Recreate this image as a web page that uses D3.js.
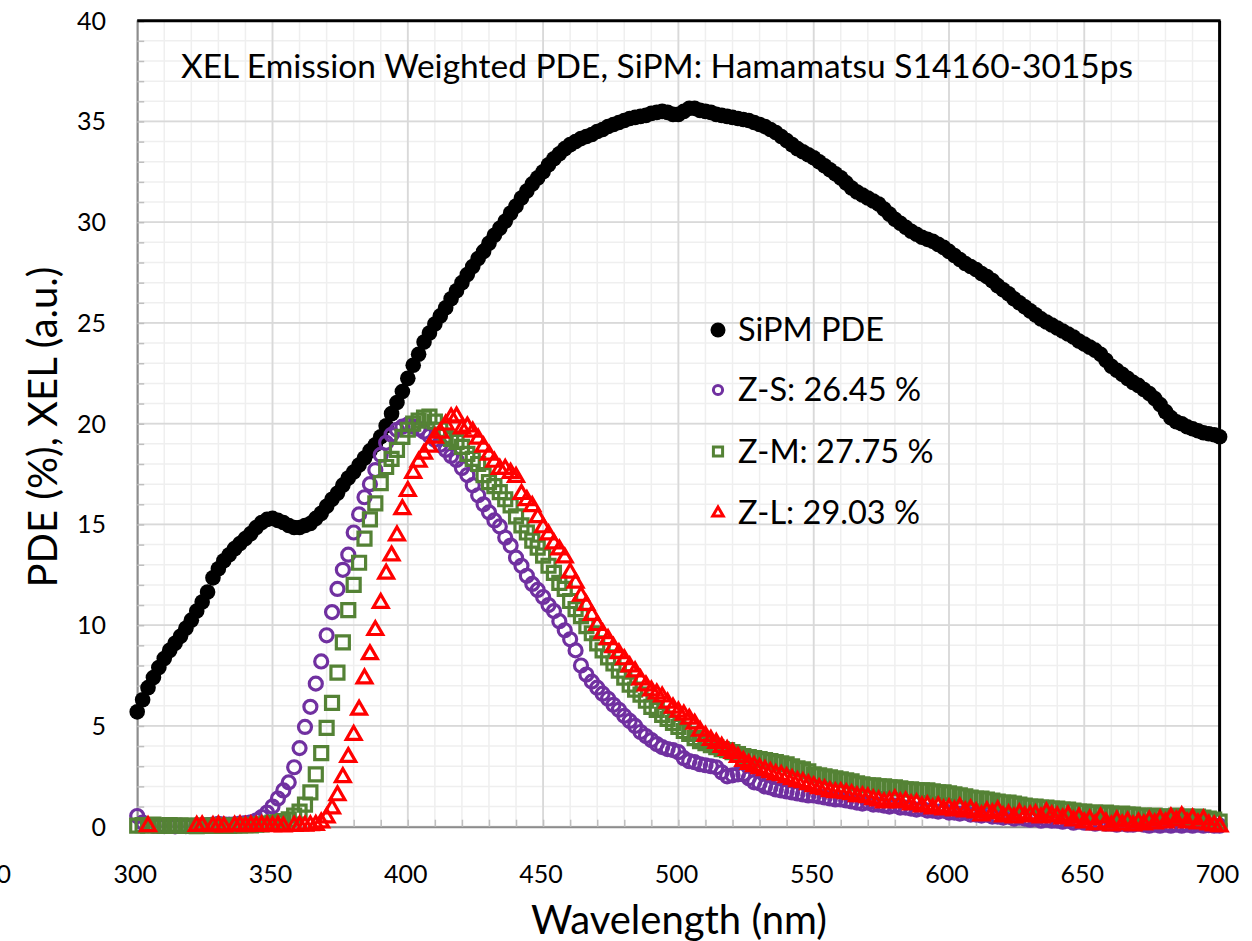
<!DOCTYPE html>
<html>
<head>
<meta charset="utf-8">
<script src="https://cdn.jsdelivr.net/npm/d3@7"></script>
<style>
body { margin: 0; background: #fff; }
text { font-family: Lato, "Open Sans", sans-serif; fill: #000; }
</style>
</head>
<body>
<div id="chart"></div>
<script>
// wavelength (nm), one sample every 2 nm
var wavelength = [
 300,302,304,306,308,310,312,314,316,318,320,322,324,326,328,330,332,334,336,338,
 340,342,344,346,348,350,352,354,356,358,360,362,364,366,368,370,372,374,376,378,
 380,382,384,386,388,390,392,394,396,398,400,402,404,406,408,410,412,414,416,418,
 420,422,424,426,428,430,432,434,436,438,440,442,444,446,448,450,452,454,456,458,
 460,462,464,466,468,470,472,474,476,478,480,482,484,486,488,490,492,494,496,498,
 500,502,504,506,508,510,512,514,516,518,520,522,524,526,528,530,532,534,536,538,
 540,542,544,546,548,550,552,554,556,558,560,562,564,566,568,570,572,574,576,578,
 580,582,584,586,588,590,592,594,596,598,600,602,604,606,608,610,612,614,616,618,
 620,622,624,626,628,630,632,634,636,638,640,642,644,646,648,650,652,654,656,658,
 660,662,664,666,668,670,672,674,676,678,680,682,684,686,688,690,692,694,696,698,
 700
];

// SiPM PDE (%)
var sipmPde = [
 5.7,6.3,6.9,7.4,7.9,8.35,8.75,9.1,9.45,9.85,10.25,10.7,11.15,11.65,12.35,12.8,13.2,13.5,13.8,14.05,
 14.3,14.55,14.85,15.1,15.25,15.3,15.2,15.1,14.95,14.85,14.85,14.95,15.05,15.3,15.55,15.9,16.25,16.55,16.95,17.3,
 17.6,17.95,18.3,18.65,18.95,19.35,19.9,20.5,21.05,21.6,22.25,22.9,23.45,24.05,24.5,24.95,25.35,25.75,26.2,26.6,
 27.0,27.4,27.8,28.2,28.55,28.95,29.35,29.7,30.05,30.45,30.8,31.2,31.55,31.9,32.2,32.5,32.85,33.15,33.4,33.65,
 33.85,34.0,34.15,34.25,34.35,34.5,34.6,34.75,34.85,34.95,35.05,35.15,35.2,35.25,35.3,35.4,35.45,35.5,35.45,35.35,
 35.35,35.5,35.65,35.65,35.55,35.5,35.45,35.35,35.3,35.25,35.2,35.15,35.1,35.05,34.95,34.85,34.75,34.6,34.45,34.25,
 34.05,33.85,33.65,33.5,33.35,33.2,33.0,32.8,32.6,32.4,32.2,31.95,31.7,31.5,31.35,31.2,31.05,30.9,30.65,30.4,
 30.15,29.95,29.75,29.55,29.4,29.25,29.15,29.05,28.9,28.75,28.55,28.35,28.15,27.95,27.8,27.65,27.45,27.3,27.1,26.85,
 26.65,26.45,26.2,26.0,25.8,25.6,25.4,25.2,25.05,24.9,24.75,24.6,24.45,24.3,24.1,23.95,23.8,23.65,23.45,23.15,
 22.85,22.65,22.45,22.25,22.05,21.9,21.7,21.5,21.25,20.95,20.6,20.3,20.1,20.0,19.85,19.75,19.65,19.55,19.5,19.45,
 19.35
];

// XEL emission, Z-S (a.u.)
var zS = [
 0.53,0.2,0.08,0.05,0.05,0.03,0.04,0.02,0.05,0.03,0.04,0.06,0.05,0.08,0.1,0.14,0.12,0.1,0.12,0.15,
 0.18,0.22,0.32,0.48,0.7,1.0,1.4,1.8,2.2,2.95,3.9,4.95,5.95,7.1,8.2,9.5,10.65,11.8,12.75,13.5,
 14.6,15.5,16.35,17.0,17.7,18.45,19.05,19.45,19.7,19.85,19.95,19.85,19.75,19.6,19.4,19.2,18.95,18.7,18.4,18.2,
 17.8,17.45,16.95,16.45,16.0,15.6,15.2,14.9,14.35,13.95,13.35,12.95,12.45,12.05,11.75,11.4,11.0,10.7,10.2,9.75,
 9.3,8.75,8.0,7.55,7.2,6.9,6.6,6.35,6.05,5.8,5.5,5.25,5.0,4.7,4.5,4.3,4.1,3.95,3.85,3.8,
 3.7,3.4,3.25,3.2,3.1,3.05,3.0,2.95,2.7,2.5,2.55,2.6,2.6,2.4,2.2,2.15,2.0,1.95,1.85,1.8,
 1.75,1.7,1.65,1.6,1.55,1.55,1.5,1.45,1.4,1.35,1.35,1.3,1.25,1.2,1.15,1.2,1.1,1.1,1.05,1.0,
 1.05,0.95,0.95,0.9,0.85,0.9,0.8,0.8,0.75,0.8,0.7,0.7,0.65,0.7,0.6,0.6,0.55,0.6,0.5,0.5,
 0.45,0.5,0.4,0.45,0.4,0.35,0.4,0.3,0.35,0.3,0.3,0.25,0.3,0.2,0.25,0.2,0.2,0.15,0.2,0.15,
 0.15,0.1,0.15,0.1,0.1,0.15,0.1,0.05,0.1,0.05,0.1,0.05,0.1,0.05,0.1,0.05,0.1,0.05,0.08,0.05,
 0.05
];

// XEL emission, Z-M (a.u.)
var zM = [
 0.05,0.08,0.05,0.1,0.06,0.04,0.08,0.05,0.06,0.04,0.05,0.03,0.05,0.06,0.04,0.05,0.06,0.04,0.05,0.06,
 0.08,0.07,0.1,0.12,0.15,0.2,0.22,0.28,0.36,0.55,0.75,1.1,1.7,2.6,3.65,4.9,6.15,7.65,9.15,10.75,
 12.0,13.1,14.3,15.25,16.05,17.05,17.85,18.25,18.7,19.35,19.7,20.0,20.15,20.3,20.35,20.1,19.7,19.4,19.25,19.1,
 18.85,18.5,18.25,18.0,17.45,17.1,16.9,16.6,16.25,15.95,15.4,14.95,14.6,14.2,13.85,13.45,12.95,12.6,12.1,11.8,
 11.2,10.8,10.45,9.95,9.6,9.1,8.75,8.4,8.1,7.75,7.4,7.05,6.8,6.55,6.25,5.95,5.8,5.55,5.35,5.15,
 4.95,4.75,4.6,4.4,4.25,4.15,4.05,3.95,3.85,3.8,3.7,3.6,3.5,3.45,3.4,3.35,3.3,3.25,3.2,3.15,
 3.1,3.0,2.9,2.85,2.75,2.6,2.55,2.5,2.45,2.4,2.35,2.3,2.25,2.15,2.1,2.05,2.05,2.0,2.0,1.95,
 1.95,1.9,1.85,1.85,1.8,1.8,1.8,1.75,1.7,1.7,1.65,1.6,1.55,1.5,1.45,1.4,1.4,1.35,1.3,1.25,
 1.2,1.2,1.15,1.1,1.05,1.0,1.0,0.95,0.95,0.9,0.9,0.85,0.85,0.8,0.75,0.75,0.7,0.7,0.65,0.7,
 0.65,0.6,0.65,0.6,0.6,0.55,0.55,0.5,0.55,0.5,0.5,0.5,0.55,0.5,0.5,0.45,0.5,0.45,0.4,0.35,
 0.25
];

// XEL emission, Z-L (a.u.), values below 0 are not shown
var zL = [
 -0.3,-0.2,0.02,-0.3,-0.2,-0.4,-0.3,-0.2,-0.3,-0.25,-0.1,0.03,0.05,-0.1,0.02,0.05,0.0,-0.1,0.04,0.06,
 0.02,0.05,0.03,0.06,0.04,0.02,0.05,0.0,-0.1,0.03,0.05,0.04,0.06,0.08,0.2,0.45,0.9,1.55,2.45,3.45,
 4.55,5.8,7.35,8.55,9.75,11.1,12.55,13.45,14.45,15.75,16.65,17.55,18.1,18.5,18.85,19.3,19.55,19.95,20.3,20.35,
 19.75,19.85,19.6,19.25,18.85,18.45,18.1,17.75,17.75,17.55,17.35,16.5,16.2,15.9,15.35,14.85,14.5,14.05,13.75,13.35,
 12.6,12.1,11.45,11.0,10.5,10.0,9.6,9.3,8.9,8.6,8.3,7.95,7.7,7.3,7.0,6.75,6.6,6.45,6.15,5.9,
 5.7,5.55,5.35,5.1,4.75,4.5,4.3,4.15,3.95,3.8,3.65,3.45,3.25,3.1,3.0,2.9,2.8,2.7,2.6,2.55,
 2.45,2.35,2.25,2.2,2.1,2.0,1.9,1.85,1.75,1.7,1.7,1.65,1.6,1.5,1.5,1.45,1.35,1.3,1.2,1.25,
 1.35,1.2,1.25,1.1,1.15,1.0,1.05,0.9,1.0,0.85,0.9,0.8,0.95,0.75,0.85,0.7,0.55,0.75,0.65,0.8,
 0.5,0.6,0.45,0.65,0.5,0.55,0.6,0.45,0.7,0.55,0.5,0.4,0.55,0.3,0.45,0.2,0.35,0.1,0.45,0.2,
 0.05,0.3,0.1,0.25,0.05,0.2,0.1,0.3,0.15,0.35,0.2,0.45,0.3,0.5,0.2,0.4,0.15,0.35,0.1,0.05,
 0.0
];

var xTickLabels = [300, 350, 400, 450, 500, 550, 600, 650, 700];
var yTickLabels = [0, 5, 10, 15, 20, 25, 30, 35, 40];
var legendLabels = ["SiPM PDE", "Z-S: 26.45 %", "Z-M: 27.75 %", "Z-L: 29.03 %"];
var titleText = "XEL Emission Weighted PDE, SiPM: Hamamatsu S14160-3015ps";
var xTitle = "Wavelength (nm)";
var yTitle = "PDE (%), XEL (a.u.)";

(function() {
    var width = 1252, height = 941;
    var plotL = 137.2, plotR = 1219.6, plotT = 20.7, plotB = 826.7;

    var x = d3.scaleLinear().domain([300, 700]).range([plotL, plotR]);
    var y = d3.scaleLinear().domain([0, 40]).range([plotB, plotT]);

    var svg = d3.select("#chart").append("svg")
        .attr("width", width)
        .attr("height", height);

    // minor grid
    var g = svg.append("g");
    g.selectAll(".vminor").data(x.ticks(40)).enter().append("line")
        .attr("x1", function(d) { return x(d); }).attr("x2", function(d) { return x(d); })
        .attr("y1", plotT).attr("y2", plotB)
        .attr("stroke", "#efefef").attr("stroke-width", 1.5);
    g.selectAll(".hminor").data(y.ticks(40)).enter().append("line")
        .attr("y1", function(d) { return y(d); }).attr("y2", function(d) { return y(d); })
        .attr("x1", plotL).attr("x2", plotR)
        .attr("stroke", "#efefef").attr("stroke-width", 1.5);
    // major grid
    g.selectAll(".vmajor").data(xTickLabels).enter().append("line")
        .attr("x1", function(d) { return x(d); }).attr("x2", function(d) { return x(d); })
        .attr("y1", plotT).attr("y2", plotB)
        .attr("stroke", "#d9d9d9").attr("stroke-width", 1.8);
    g.selectAll(".hmajor").data(yTickLabels).enter().append("line")
        .attr("y1", function(d) { return y(d); }).attr("y2", function(d) { return y(d); })
        .attr("x1", plotL).attr("x2", plotR)
        .attr("stroke", "#d9d9d9").attr("stroke-width", 1.8);

    // axes: minor ticks inside the plot
    var xAxis = d3.axisBottom(x).tickValues(x.ticks(40)).tickSize(-7).tickFormat("");
    var yAxis = d3.axisLeft(y).tickValues(y.ticks(40)).tickSize(-7).tickFormat("");
    var ax = svg.append("g").attr("transform", "translate(0," + plotB + ")").call(xAxis);
    var ay = svg.append("g").attr("transform", "translate(" + plotL + ",0)").call(yAxis);
    [ax, ay].forEach(function(a) {
        a.select(".domain").attr("stroke", "#8c8c8c").attr("stroke-width", 2);
        a.selectAll(".tick line").attr("stroke", "#bfbfbf").attr("stroke-width", 1.5);
    });

    // top and right borders
    svg.append("line").attr("x1", plotL).attr("x2", plotR + 1).attr("y1", plotT).attr("y2", plotT)
        .attr("stroke", "#000").attr("stroke-width", 3);
    svg.append("line").attr("x1", plotR).attr("x2", plotR).attr("y1", plotT).attr("y2", plotB)
        .attr("stroke", "#000").attr("stroke-width", 3);

    // tick labels
    svg.selectAll(".xlab").data(xTickLabels).enter().append("text")
        .attr("x", function(d) { return x(d) - 2; })
        .attr("y", 883)
        .attr("text-anchor", "middle")
        .style("font-size", "25px")
        .text(function(d) { return d; });
    svg.append("text").attr("x", 11).attr("y", 883).attr("text-anchor", "end")
        .style("font-size", "25px").text("250");
    svg.selectAll(".ylab").data(yTickLabels).enter().append("text")
        .attr("x", 106)
        .attr("y", function(d) { return y(d) + 9; })
        .attr("text-anchor", "end")
        .style("font-size", "25px")
        .text(function(d) { return d; });

    // axis titles
    svg.append("text").attr("x", 679).attr("y", 934).attr("text-anchor", "middle")
        .style("font-size", "40px").text(xTitle);
    svg.append("text").attr("transform", "translate(57,427) rotate(-90)")
        .attr("text-anchor", "middle")
        .style("font-size", "40px").text(yTitle);

    // chart title
    svg.append("text").attr("x", 657).attr("y", 78).attr("text-anchor", "middle")
        .style("font-size", "33.5px").text(titleText);

    var series = [
        { values: sipmPde, type: "dot" },
        { values: zS, type: d3.symbolCircle, size: 133, color: "#7030a0" },
        { values: zM, type: d3.symbolSquare, size: 169, color: "#548235" },
        { values: zL, type: d3.symbolTriangle, size: 95, color: "#ff0000" }
    ];

    series.forEach(function(s) {
        var pts = wavelength.map(function(w, i) { return { x: w, y: s.values[i] }; })
            .filter(function(p) { return p.y >= 0; });
        var sg = svg.append("g");
        if (s.type == "dot") {
            sg.selectAll("circle").data(pts).enter().append("circle")
                .attr("cx", function(d) { return x(d.x); })
                .attr("cy", function(d) { return y(d.y); })
                .attr("r", 7.8)
                .attr("fill", "#000");
        } else {
            var sym = d3.symbol().type(s.type).size(s.size);
            sg.selectAll("path").data(pts).enter().append("path")
                .attr("transform", function(d) { return "translate(" + x(d.x) + "," + y(d.y) + ")"; })
                .attr("d", sym)
                .attr("fill", "none")
                .attr("stroke", s.color)
                .attr("stroke-width", 3.2);
        }
    });

    // legend
    var legY = [330, 390, 451.5, 513];
    var leg = svg.append("g");
    series.forEach(function(s, i) {
        if (s.type == "dot") {
            leg.append("circle").attr("cx", 718).attr("cy", legY[i]).attr("r", 7.5).attr("fill", "#000");
        } else {
            leg.append("path")
                .attr("transform", "translate(718," + legY[i] + ")")
                .attr("d", d3.symbol().type(s.type).size(s.size * 0.5))
                .attr("fill", "none").attr("stroke", s.color).attr("stroke-width", 3);
        }
        leg.append("text").attr("x", 738).attr("y", legY[i] + 11)
            .style("font-size", "32.5px").text(legendLabels[i]);
    });
})();
</script>
</body>
</html>
